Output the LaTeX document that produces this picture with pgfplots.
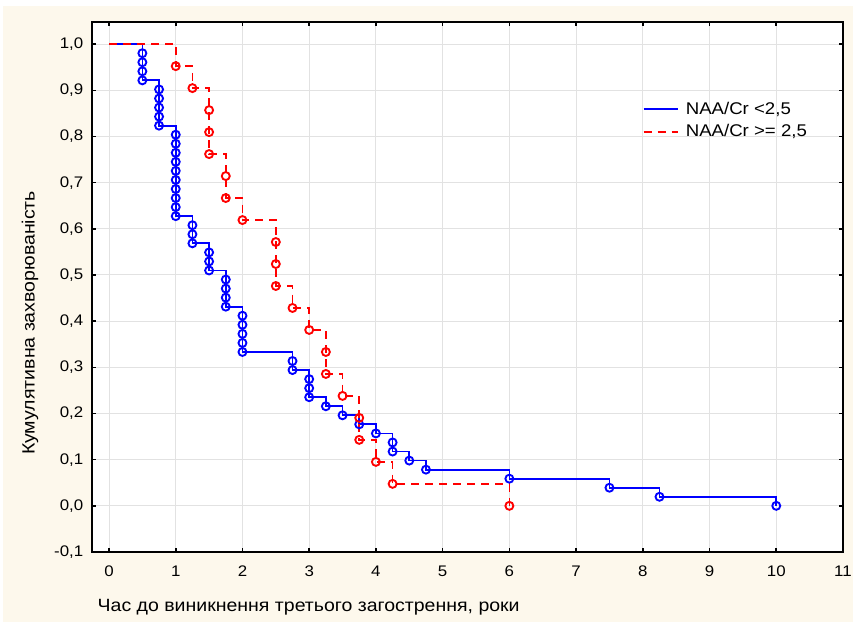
\documentclass[border=0pt]{standalone}
\usepackage{fontspec}
\setmainfont{Liberation Sans}[FakeStretch=1.1]
\usepackage{pgfplots}
\pgfplotsset{compat=1.18}
\usepackage{pgfplotstable}
\definecolor{bgcream}{HTML}{FDF8EC}
\definecolor{gridgray}{HTML}{E2E2E2}

% step curves (value after the events at x)
\pgfplotstableread{
x y
0 1
0.5 0.9216
0.75 0.8235
1 0.6275
1.25 0.5686
1.5 0.5098
1.75 0.4314
2 0.3333
2.75 0.2941
3 0.2353
3.25 0.2157
3.5 0.1961
3.75 0.1765
4 0.1569
4.25 0.1176
4.5 0.0980
4.75 0.0784
6 0.0588
7.5 0.0392
8.25 0.0196
10 0
}\blueline

\pgfplotstableread{
x y
0.5 0.9804
0.5 0.9608
0.5 0.9412
0.5 0.9216
0.75 0.9020
0.75 0.8824
0.75 0.8627
0.75 0.8431
0.75 0.8235
1 0.8039
1 0.7843
1 0.7647
1 0.7451
1 0.7255
1 0.7059
1 0.6863
1 0.6667
1 0.6471
1 0.6275
1.25 0.6078
1.25 0.5882
1.25 0.5686
1.5 0.5490
1.5 0.5294
1.5 0.5098
1.75 0.4902
1.75 0.4706
1.75 0.4510
1.75 0.4314
2 0.4118
2 0.3922
2 0.3725
2 0.3529
2 0.3333
2.75 0.3137
2.75 0.2941
3 0.2745
3 0.2549
3 0.2353
3.25 0.2157
3.5 0.1961
3.75 0.1765
4 0.1569
4.25 0.1373
4.25 0.1176
4.5 0.0980
4.75 0.0784
6 0.0588
7.5 0.0392
8.25 0.0196
10 0
}\bluemarks

\pgfplotstableread{
x y
0 1
1 0.9524
1.25 0.9048
1.5 0.7619
1.75 0.6667
2 0.6190
2.5 0.4762
2.75 0.4286
3 0.3810
3.25 0.2857
3.5 0.2381
3.75 0.1429
4 0.0952
4.25 0.0476
6 0
}\redline

\pgfplotstableread{
x y
1 0.9524
1.25 0.9048
1.5 0.8571
1.5 0.8095
1.5 0.7619
1.75 0.7143
1.75 0.6667
2 0.6190
2.5 0.5714
2.5 0.5238
2.5 0.4762
2.75 0.4286
3 0.3810
3.25 0.3333
3.25 0.2857
3.5 0.2381
3.75 0.1905
3.75 0.1429
4 0.0952
4.25 0.0476
6 0
}\redmarks

\begin{document}
\begin{tikzpicture}[x=1pt,y=1pt]
\path[use as bounding box] (-69,-52.5) rectangle (571.5,414);
\fill[bgcream] (-66.75,-52.5) rectangle (570.75,409.5);
\begin{axis}[
  at={(0,0)}, anchor=south west,
  scale only axis, width=563.25pt, height=397.5pt,
  xmin=-0.255, xmax=11, ymin=-0.1, ymax=1.048,
  axis background/.style={fill=white},
  xtick={0,1,2,3,4,5,6,7,8,9,10,11},
  xticklabels={0,1,2,3,4,5,6,7,8,9,10,11},
  ytick={-0.1,0,0.1,0.2,0.3,0.4,0.5,0.6,0.7,0.8,0.9,1.0},
  yticklabels={{-0,1},{0,0},{0,1},{0,2},{0,3},{0,4},{0,5},{0,6},{0,7},{0,8},{0,9},{1,0}},
  grid=major, major grid style={gridgray, line width=0.75pt},
  tick align=inside, major tick length=3pt,
  tick style={black, line width=1.2pt},
  axis line style={black, line width=1pt},
  tick label style={font=\fontsize{11.5}{13}\selectfont},
  xticklabel style={yshift=-7pt},
  yticklabel style={xshift=-3pt},
  legend style={draw=none, fill=none, at={(0.733,0.855)}, anchor=north west,
    inner sep=0pt, font=\fontsize{12.7}{14}\selectfont, row sep=2.5pt},
  legend cell align=left,
  legend image code/.code={\draw[#1, line width=1.3pt] (0pt,0pt) -- (25.5pt,0pt); \path (29pt,0pt);},
]
\addplot[const plot, blue, line width=1.3pt] table[x=x,y=y] {\blueline};
\addlegendentry{NAA/Cr <2,5}
\addplot[only marks, mark=o, mark size=3pt, blue, mark options={line width=1.4pt}, forget plot] table[x=x,y=y] {\bluemarks};
\addplot[const plot, red, line width=1.3pt, dash pattern=on 6pt off 4.5pt] table[x=x,y=y] {\redline};
\addlegendentry{NAA/Cr >= 2,5}
\addplot[only marks, mark=o, mark size=3pt, red, mark options={solid, line width=1.4pt}, forget plot] table[x=x,y=y] {\redmarks};
\end{axis}
\node[rotate=90, font=\fontsize{13.3}{15}\selectfont] at (-46.5,171.75) {Кумулятивна захворюваність};
\node[anchor=west, font=\fontsize{13.3}{15}\selectfont] at (0.75,-41.25) {Час до виникнення третього загострення, роки};
\end{tikzpicture}
\end{document}
